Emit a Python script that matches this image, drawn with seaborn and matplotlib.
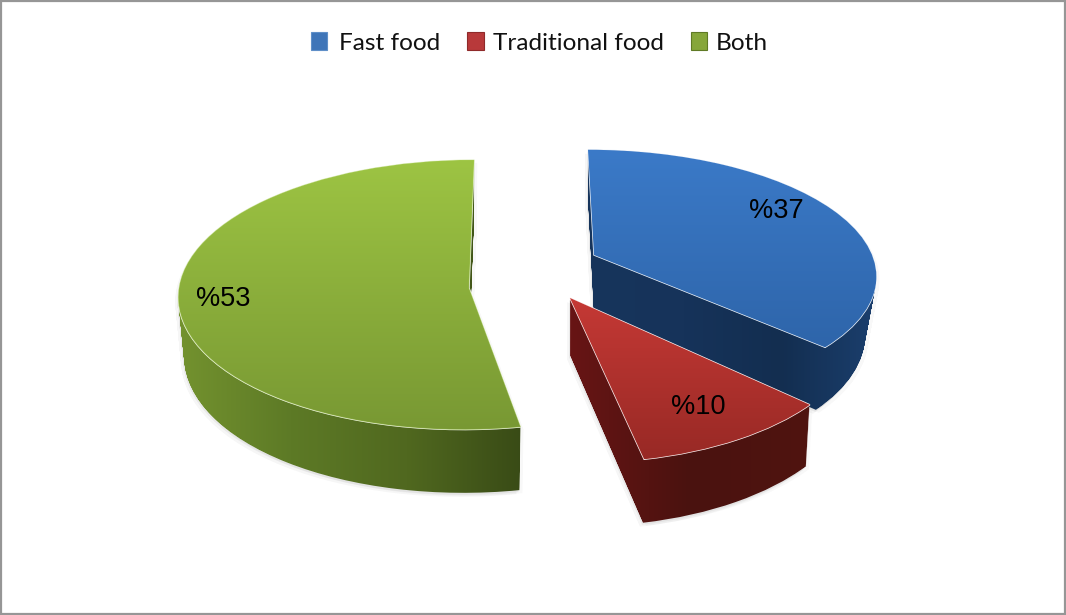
import numpy as np
import matplotlib
matplotlib.use("Agg")
import matplotlib.pyplot as plt
from matplotlib.colors import ListedColormap
from matplotlib.patches import Patch, PathPatch, Rectangle
from matplotlib.path import Path
from matplotlib.transforms import Affine2D, Transform
import seaborn as sns

categories = ["Fast food", "Traditional food", "Both"]
values = [37, 10, 53]
legend_labels = ["\u2009Fast food", "Traditional food", "Both"]

# styling of each slice (pixel geometry of the tilted, exploded pie)
geometry = [
    dict(cx=594, cy=255, sx=278, sy=121, p=0.15, shear=-0.057),
    dict(cx=570, cy=298, sx=286, sy=140, p=0.15, shear=-0.07),
    dict(cx=469, cy=288, sx=290, sy=134.5, p=0.05, shear=0.04),
]
depths = [57, 57, 59]
bottom_scale_x = [0.96, 0.985, 0.98]
bottom_scale_y = [1.06, 1.04, 1.03]
draw_order = [2, 0, 1]
label_pos = [(776, 211), (698, 407), (223, 299)]
top_colors = [["#3b7ac8", "#2e65aa"], ["#c53935", "#982925"], ["#9dc443", "#789833"]]
side_colors = [["#17355c", "#16335a", "#132e50", "#1b3f6e"],
               ["#681515", "#4a120f", "#501410"],
               ["#74932f", "#5d7a26", "#50681f", "#394b16"]]
legend_colors = ["#3f75b8", "#b8393a", "#86a63a"]
legend_edges = ["#5f8fc8", "#8f2a2a", "#5f7a25"]
edge_colors = ["#4f8ad4", "#d85a55", "#b4d86a"]
edge_alpha = [0.12, 0.12, 0.35]


class Tilt(Transform):
    input_dims = 2
    output_dims = 2
    is_separable = False
    has_inverse = False

    def __init__(self, cx, cy, sx, sy, p, shear, drop=0.0, kx=1.0, ky=1.0):
        super().__init__()
        self.g = (cx, cy, sx, sy, p, shear, drop, kx, ky)

    def transform_non_affine(self, values):
        cx, cy, sx, sy, p, shear, drop, kx, ky = self.g
        values = np.asarray(values, dtype=float)
        u, v = values[:, 0], values[:, 1]
        w = 1 + p * v
        X = u / w * sx
        Y = v / w * sy
        return np.column_stack([cx + (X + shear * Y) * kx, cy - Y * ky + drop])


sns.set_theme(style="white")
plt.rcParams["font.family"] = ["Liberation Sans", "DejaVu Sans"]

fig = plt.figure(figsize=(10.66, 6.15), dpi=100, facecolor="white")
ax = fig.add_axes([0, 0, 1, 1])
wedges, _ = ax.pie(values, colors=[c[0] for c in top_colors], startangle=90,
                   counterclock=False, radius=1)
ax.set_aspect("auto")


def gradient(ax, colors, extent, vertical, clip, clip_tf, z):
    cmap = ListedColormap(sns.blend_palette(colors, 256))
    arr = np.linspace(0, 1, 256).reshape(-1, 1) if vertical else np.linspace(0, 1, 256).reshape(1, -1)
    im = ax.imshow(arr, cmap=cmap, extent=extent, aspect="auto", origin="upper",
                   interpolation="bilinear", zorder=z)
    im.set_clip_path(clip, clip_tf)
    return im


z = 2.0
for i in draw_order:
    w = wedges[i]
    g = geometry[i]
    base = w.get_path()
    layers = []
    for f in np.linspace(0, 1, depths[i] + 1):
        layers.append(Tilt(drop=depths[i] * f,
                           kx=1 + (bottom_scale_x[i] - 1) * f,
                           ky=1 + (bottom_scale_y[i] - 1) * f, **g).transform_path(base))
    side = Path.make_compound_path(*layers)
    xs, ys = side.vertices[:, 0], side.vertices[:, 1]
    x0, x1, y0, y1 = xs.min() - 2, xs.max() + 2, ys.min() - 2, ys.max() + 2
    # soft drop shadow behind the slice
    for (dx, dy), a in [((-3, 4), 0.05), ((-1, 2), 0.08), ((3, 3), 0.04)]:
        ax.add_patch(PathPatch(side.transformed(Affine2D().translate(dx, dy)),
                               fc="#555555", ec="none", alpha=a, zorder=z))
    gradient(ax, side_colors[i], (x0, x1, y1, y0), False, side, ax.transData, z + 0.1)
    # top face
    w.set_transform(Tilt(**g) + ax.transData)
    w.set_zorder(z + 0.2)
    top_path = Tilt(**g).transform_path(base)
    ty = top_path.vertices[:, 1]
    gradient(ax, top_colors[i], (x0, x1, ty.max(), ty.min()), True, top_path, ax.transData, z + 0.3)
    ax.add_patch(PathPatch(top_path, fc="none", ec=edge_colors[i], lw=0.7, alpha=edge_alpha[i], zorder=z + 0.4))
    z += 1

for lab, val, (x, y) in zip(categories, values, label_pos):
    ax.text(x, y, f"%{val}", ha="center", va="center", fontsize=19.5,
            color="black", zorder=10)

handles = [Patch(facecolor=c, edgecolor=e, linewidth=0.8) for c, e in zip(legend_colors, legend_edges)]
ax.legend(handles, legend_labels, loc="center", bbox_to_anchor=(539.5 / 1066, 1 - 43 / 615),
          ncol=3, frameon=False, handlelength=0.66, handleheight=0.7, handletextpad=0.37,
          columnspacing=1.11, labelcolor="#111111", prop={"family": "Lato", "size": 17.6})

ax.add_patch(Rectangle((1, 1), 1064, 613, fc="none", ec="#969696", lw=1.6, zorder=11))
ax.set_xlim(0, 1066)
ax.set_ylim(615, 0)
ax.axis("off")
fig.savefig("out.png", dpi=100, facecolor="white")
